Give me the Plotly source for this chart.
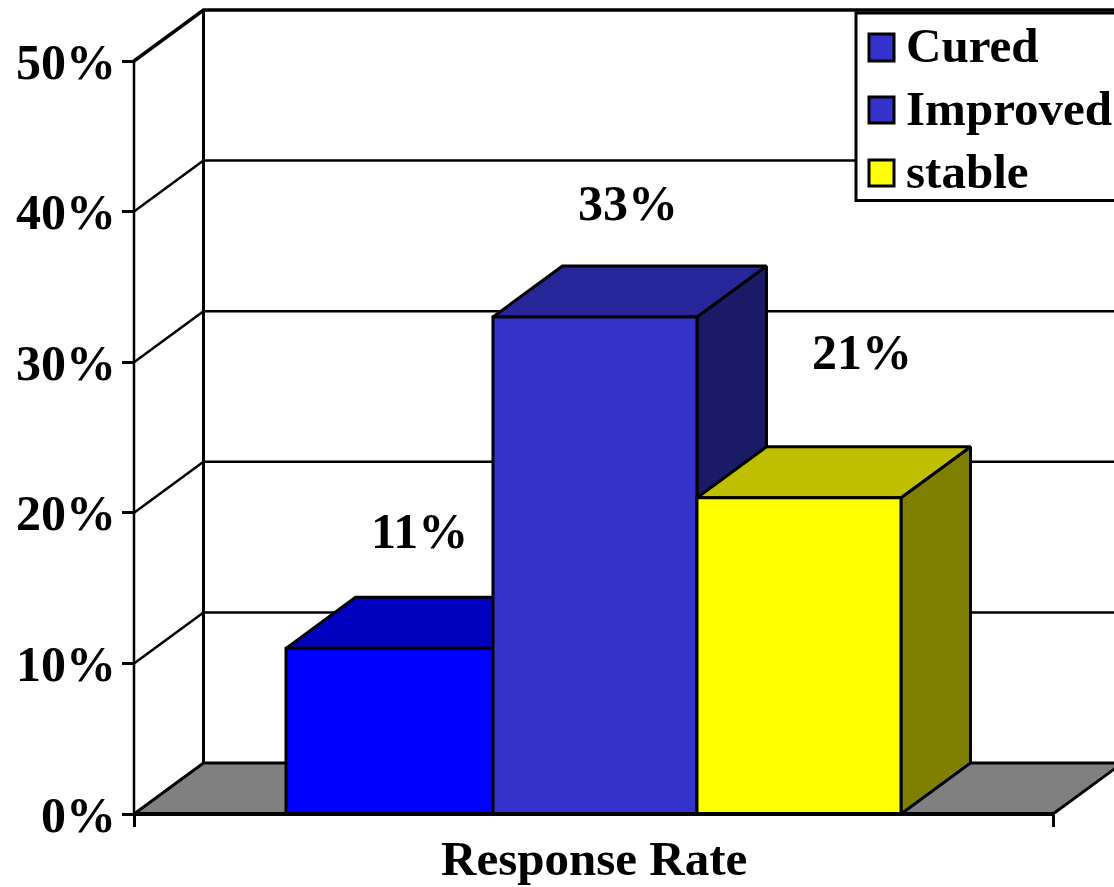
import plotly.graph_objects as go

# Chart data
categories = ["Cured", "Improved", "stable"]
response_pct = [11, 33, 21]
axis_ticks = [0, 10, 20, 30, 40, 50]
group_label = "Response Rate"

# Face colours of each column: front, top, side
front_colors = ["#0000FF", "#3333CC", "#FFFF00"]
top_colors = ["#0000BF", "#262699", "#BFBF00"]
side_colors = ["#000080", "#1A1A66", "#808000"]
swatch_colors = ["#3333CC", "#3333CC", "#FFFF00"]

# Plot geometry in pixels; the axes turn it into data units
FIG_W, FIG_H = 1114, 887
LEFT, BASE = 134, 814
FLOOR_PX = 919
PX_PER_PCT = 15.06
DEPTH_X = 69.5 / FLOOR_PX
DEPTH_Y = 51 / PX_PER_PCT
BAR_EDGES = [0.1654, 0.3906, 0.6126, 0.8346]
FONT = "Liberation Serif"
INK = "#000000"


def xu(px):
    return (px - LEFT) / FLOOR_PX


def yu(px):
    return (BASE - px) / PX_PER_PCT


fig = go.Figure()


def polygon(xs, ys, fill, width=3):
    fig.add_trace(go.Scatter(
        x=xs + xs[:1], y=ys + ys[:1], mode="lines", fill="toself",
        fillcolor=fill, line=dict(color=INK, width=width),
        hoverinfo="skip", showlegend=False,
    ))


def segment(xs, ys, width):
    fig.add_trace(go.Scatter(
        x=xs, y=ys, mode="lines", line=dict(color=INK, width=width),
        hoverinfo="skip", showlegend=False,
    ))


# Floor of the box
polygon([0, DEPTH_X, 1 + DEPTH_X, 1], [0, DEPTH_Y, DEPTH_Y, 0], "#808080", 3)

# Gridlines across the back wall and down the side wall
for t in axis_ticks[1:]:
    w = 3.5 if t == axis_ticks[-1] else 2.5
    segment([0, DEPTH_X, xu(FIG_W) + 0.01], [t, t + DEPTH_Y, t + DEPTH_Y], w)

# Corner of the two walls
segment([DEPTH_X, DEPTH_X], [DEPTH_Y, axis_ticks[-1] + DEPTH_Y], 3)

# Columns, left to right so each one overlaps its neighbour's side
for i, v in enumerate(response_pct):
    x0, x1 = BAR_EDGES[i], BAR_EDGES[i + 1]
    polygon([x1, x1 + DEPTH_X, x1 + DEPTH_X, x1], [0, DEPTH_Y, v + DEPTH_Y, v], side_colors[i])
    polygon([x0, x0 + DEPTH_X, x1 + DEPTH_X, x1], [v, v + DEPTH_Y, v + DEPTH_Y, v], top_colors[i])
    polygon([x0, x1, x1, x0], [0, 0, v, v], front_colors[i])

# Base line along the front of the floor, and the axis spine up to the top tick
segment([0, 1], [0, 0], 4)
segment([0, 0], [0, axis_ticks[-1]], 2.5)

annotations = []


def text(label, x, y, anchor="center", size=50):
    annotations.append(dict(
        text=label, x=x, y=y, xref="x", yref="y", showarrow=False,
        xanchor=anchor, yanchor="middle", align="left",
        font=dict(family=FONT, size=size, color=INK, weight="bold"),
    ))


# Value labels
label_px = [(419, 531), (628, 203), (862, 352)]
for v, (px, py) in zip(response_pct, label_px):
    text(f"{v}%", xu(px), yu(py))

# Category caption below the base line
text(group_label, 0.5, yu(858), size=49)

# Legend box
shapes = [dict(
    type="rect", xref="x", yref="y", x0=xu(856), x1=xu(1120), y0=yu(13), y1=yu(200.5),
    fillcolor="#FFFFFF", line=dict(color=INK, width=3),
)]
legend_rows = [(34, 61, 45), (97, 123, 108), (160, 186, 171)]
for name, color, (top, bottom, mid) in zip(categories, swatch_colors, legend_rows):
    shapes.append(dict(
        type="rect", xref="x", yref="y", x0=xu(869), x1=xu(894), y0=yu(top), y1=yu(bottom),
        fillcolor=color, line=dict(color=INK, width=3),
    ))
    text(name, xu(904), yu(mid), anchor="left", size=49)

# The plot area fills the page and the axes are pinned inside it, so nothing
# drawn on the spine or the base line gets clipped
fig.update_layout(
    width=FIG_W, height=FIG_H,
    margin=dict(l=0, r=0, t=0, b=0, pad=0),
    plot_bgcolor="#FFFFFF", paper_bgcolor="#FFFFFF",
    showlegend=False, shapes=shapes, annotations=annotations,
    font=dict(family=FONT, size=50, color=INK),
    xaxis=dict(
        range=[xu(0), xu(FIG_W)], showgrid=False, zeroline=False, showline=False,
        anchor="free", position=(FIG_H - BASE) / FIG_H,
        tickmode="array", tickvals=[0, 1], ticktext=["", ""],
        ticks="outside", ticklen=12, tickwidth=3, tickcolor=INK,
    ),
    yaxis=dict(
        range=[yu(FIG_H), yu(0)], showgrid=False, zeroline=False, showline=False,
        anchor="free", position=LEFT / FIG_W,
        tickmode="array", tickvals=axis_ticks, ticktext=[f"{t}%" for t in axis_ticks],
        ticks="outside", ticklen=12, tickwidth=3, tickcolor=INK,
        ticklabelstandoff=-4,
        tickfont=dict(family=FONT, size=50, color=INK, weight="bold"),
    ),
)

fig.write_html("out.html")
